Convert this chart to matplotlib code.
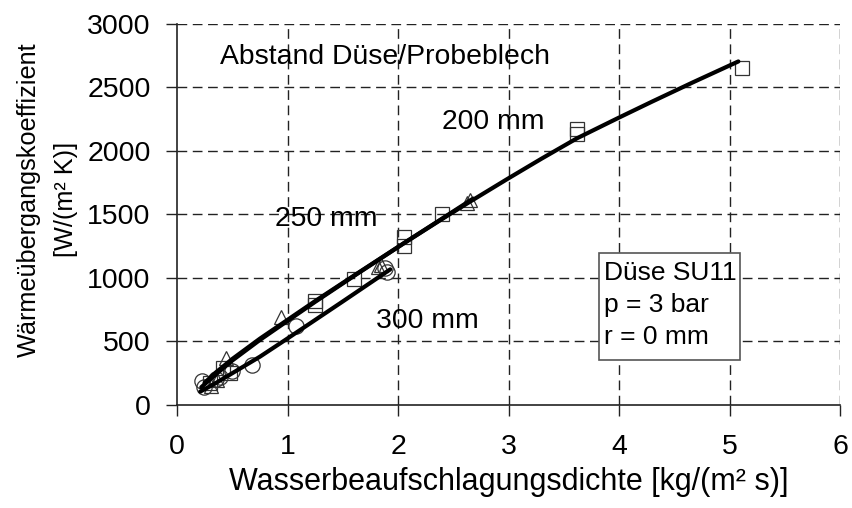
import matplotlib
matplotlib.use("Agg")
import matplotlib.pyplot as plt
from matplotlib.patches import Rectangle

plt.rcParams['font.family'] = ['Liberation Sans', 'DejaVu Sans']

# Measured points, nozzle distance 200 / 250 / 300 mm
x_200 = [0.30, 0.42, 0.48, 1.25, 1.25, 1.60, 2.05, 2.05, 2.40, 3.62, 3.62, 5.11]
y_200 = [175, 290, 250, 815, 790, 990, 1320, 1250, 1500, 2170, 2130, 2650]

x_250 = [0.31, 0.36, 0.44, 0.94, 1.82, 1.85, 2.62, 2.65]
y_250 = [150, 200, 370, 690, 1085, 1100, 1590, 1615]

x_300 = [0.23, 0.24, 0.35, 0.39, 0.50, 0.68, 1.08, 1.88, 1.90]
y_300 = [185, 140, 205, 220, 270, 315, 620, 1080, 1050]

# Fitted trend curves
fit_x_200 = [0.22, 0.35, 0.50, 0.75, 1.00, 1.25, 1.60, 2.05, 2.40, 2.65,
             3.00, 3.30, 3.62, 4.00, 4.30, 4.67, 5.08]
fit_y_200 = [140, 240, 350, 512, 662, 812, 1015, 1272, 1465, 1600,
             1785, 1940, 2100, 2263, 2389, 2541, 2705]

fit_x_250 = [0.25, 0.35, 0.50, 0.75, 1.00, 1.25, 1.60, 2.05, 2.40, 2.68]
fit_y_250 = [175, 255, 362, 522, 670, 818, 1018, 1272, 1468, 1625]

fit_x_300 = [0.21, 0.35, 0.50, 0.75, 0.98, 1.20, 1.50, 1.93]
fit_y_300 = [105, 172, 250, 380, 512, 640, 815, 1068]

x_ticks = [0, 1, 2, 3, 4, 5, 6]
y_ticks = [0, 500, 1000, 1500, 2000, 2500, 3000]

fig = plt.figure(figsize=(8.53, 5.08), dpi=100)
ax = fig.add_axes([0.2075, 0.2028, 0.7773, 0.75])

ax.set_xlim(0, 6)
ax.set_ylim(0, 3000)
ax.set_xticks(x_ticks)
ax.set_yticks(y_ticks)

# dashed grid including the outer frame lines
for xv in x_ticks[1:]:
    ax.axvline(xv, color='#222222', lw=1.0, ls=(0, (7, 4)), zorder=1)
for yv in y_ticks[1:]:
    ax.axhline(yv, color='#222222', lw=1.0, ls=(0, (7, 4)), zorder=1)

for s in ['top', 'right']:
    ax.spines[s].set_visible(False)
for s in ['left', 'bottom']:
    ax.spines[s].set_color('#222222')
    ax.spines[s].set_linewidth(1.2)

ax.tick_params(axis='both', direction='out', length=8, width=1.0,
               color='#222222', labelsize=20.5)
ax.tick_params(axis='x', pad=13)
ax.tick_params(axis='y', pad=11)

mk = dict(linestyle='none', markerfacecolor='none', markeredgecolor='#333333',
          markeredgewidth=0.9, zorder=3)
ax.plot(x_200, y_200, marker='s', markersize=10.5, **mk)
ax.plot(x_250, y_250, marker='^', markersize=10.5, **mk)
ax.plot(x_300, y_300, marker='o', markersize=11, **mk)

ax.plot(fit_x_200, fit_y_200, color='black', lw=3.0, zorder=4, solid_capstyle='round')
ax.plot(fit_x_250, fit_y_250, color='black', lw=3.0, zorder=4, solid_capstyle='round')
ax.plot(fit_x_300, fit_y_300, color='black', lw=3.0, zorder=4, solid_capstyle='round')

ax.text(0.39, 2740, 'Abstand Düse/Probeblech', fontsize=20.4, va='center', ha='left')
ax.text(2.40, 2225, '200 mm', fontsize=20.4, va='center', ha='left')
ax.text(0.89, 1465, '250 mm', fontsize=20.4, va='center', ha='left')
ax.text(1.80, 665, '300 mm', fontsize=20.4, va='center', ha='left')

# parameter box
ax.add_patch(Rectangle((3.82, 354), 1.275, 843, facecolor='white',
                       edgecolor='#555555', linewidth=1.2, zorder=5))
ax.text(3.864, 787, 'Düse SU11\np = 3 bar\nr = 0 mm', fontsize=19, va='center',
        ha='left', linespacing=1.44, zorder=6)

ax.set_xlabel('Wasserbeaufschlagungsdichte [kg/(m² s)]', fontsize=22, labelpad=5)
ax.set_ylabel('Wärmeübergangskoeffizient\n[W/(m² K)]', fontsize=18.2,
              linespacing=1.68)
ax.yaxis.set_label_coords(-0.149, 0.54)

fig.savefig('out.png', dpi=100)
